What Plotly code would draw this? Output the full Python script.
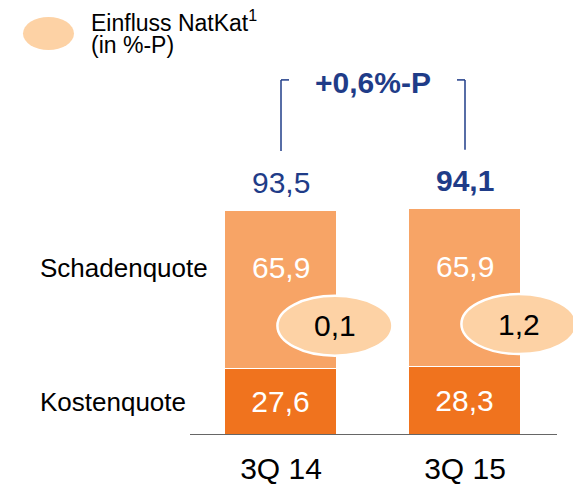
import plotly.graph_objects as go

categories = ["3Q 14", "3Q 15"]
kostenquote = [27.6, 28.3]
schadenquote = [65.9, 65.9]
natkat = [0.1, 1.2]
totals = [93.5, 94.1]
delta_label = "+0,6%-P"

def de(v):
    return f"{v:.1f}".replace(".", ",")

DARK = "#F0731E"
LIGHT = "#F7A466"
PALE = "#FDD2A5"
BLUE = "#1F3C88"
FONT = "Liberation Sans, Arial, sans-serif"

W, H = 581, 488
OFF = 8  # page body margin
def px(x):
    return (x - OFF) / W
def py(y):
    return 1 - (y - OFF) / H

BASE = 435 - OFF  # baseline in figure px
SCALE = 2.396
YTOP = BASE / SCALE
C0, UNIT = 281, 184  # first category centre (page px) and category spacing

fig = go.Figure()
fig.add_bar(x=categories, y=kostenquote, marker=dict(color=DARK, line=dict(color="white", width=1)),
            text=[de(v) for v in kostenquote], textposition="inside", insidetextanchor="middle",
            textfont=dict(color="white", size=30, family=FONT), width=0.609, hoverinfo="skip")
fig.add_bar(x=categories, y=schadenquote, marker=dict(color=LIGHT, line=dict(color="white", width=1)),
            width=0.609, hoverinfo="skip")

shapes = []
annotations = []
# baseline
shapes.append(dict(type="line", xref="paper", yref="y", x0=px(190), x1=px(557), y0=0, y1=0,
                   line=dict(color="#333", width=1.5)))
for i, cat in enumerate(categories):
    annotations.append(dict(x=i, y=kostenquote[i] + 0.64 * schadenquote[i], xref="x", yref="y",
                            text=de(schadenquote[i]), showarrow=False,
                            font=dict(color="white", size=30, family=FONT)))
    cy = kostenquote[i] + 18
    shapes.append(dict(type="circle", xref="x", yref="y", x0=i + 0.293 - 0.3125, x1=i + 0.293 + 0.3125,
                       y0=cy - 12.5, y1=cy + 12.5, fillcolor=PALE, line=dict(color="white", width=2.5),
                       layer="above"))
    annotations.append(dict(x=i + 0.293, y=cy, xref="x", yref="y", text=de(natkat[i]), showarrow=False,
                            font=dict(color="black", size=30, family=FONT)))
    txt = de(totals[i]) if i == 0 else f"<b>{de(totals[i])}</b>"
    annotations.append(dict(x=i, y=totals[i] + 12, xref="x", yref="y", text=txt, showarrow=False,
                            font=dict(color=BLUE, size=30, family=FONT)))
    shapes.append(dict(type="line", xref="x", yref="y", x0=i, x1=i, y0=totals[i] + 25, y1=148.2,
                       line=dict(color=BLUE, width=1.5)))
    hx = 0.0435 if i == 0 else -0.0435
    shapes.append(dict(type="line", xref="x", yref="y", x0=i, x1=i + hx, y0=148.2, y1=148.2,
                       line=dict(color=BLUE, width=1.5)))

annotations.append(dict(x=0.5, y=147.3, xref="x", yref="y", text=f"<b>{delta_label}</b>", showarrow=False,
                        font=dict(color=BLUE, size=30, family=FONT)))

annotations.append(dict(x=px(38), y=kostenquote[0] + 0.64 * schadenquote[0], xref="paper", yref="y",
                        text="Schadenquote", showarrow=False, xanchor="left",
                        font=dict(color="black", size=26, family=FONT)))
annotations.append(dict(x=px(38), y=kostenquote[0] / 2, xref="paper", yref="y",
                        text="Kostenquote", showarrow=False, xanchor="left",
                        font=dict(color="black", size=26, family=FONT)))

shapes.append(dict(type="circle", xref="paper", yref="paper", x0=px(23), x1=px(74),
                   y0=py(50), y1=py(17), fillcolor=PALE, line=dict(width=0)))
annotations.append(dict(x=px(89), y=py(21), xref="paper", yref="paper", xanchor="left", yanchor="middle",
                        text="Einfluss NatKat<sup>1</sup>", showarrow=False,
                        font=dict(color="black", size=23, family=FONT)))
annotations.append(dict(x=px(89), y=py(45), xref="paper", yref="paper", xanchor="left", yanchor="middle",
                        text="(in %-P)", showarrow=False,
                        font=dict(color="black", size=23, family=FONT)))

fig.update_layout(
    width=W, height=H, barmode="stack", bargap=0, showlegend=False,
    margin=dict(l=0, r=0, t=0, b=0), plot_bgcolor="white", paper_bgcolor="white",
    shapes=shapes, annotations=annotations,
    xaxis=dict(domain=[px(190), 1], range=[(190 - C0) / UNIT, (W + OFF - C0) / UNIT], showline=False,
               showgrid=False, zeroline=False, ticks="", automargin=False,
               tickfont=dict(size=30, color="black", family=FONT), ticklabelstandoff=13),
    yaxis=dict(domain=[1 - BASE / H, 1], range=[0, YTOP], visible=False, showgrid=False,
               zeroline=False, automargin=False),
)
fig.write_html("out.html")
